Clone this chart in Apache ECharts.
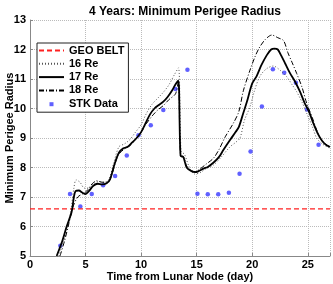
<!DOCTYPE html>
<html><head><meta charset="utf-8">
<script src="https://cdn.jsdelivr.net/npm/echarts@6/dist/echarts.min.js"></script>
<style>html,body{margin:0;padding:0;background:#fff}#c{width:333px;height:284px}</style>
</head><body><div id="c"></div>
<script>
const geoBelt = 6.6;
const re16 = [[2.6,5.0],[3.0,5.5],[3.4,6.0],[3.7,6.6],[3.95,7.3],[4.15,7.58],[4.5,7.5],[4.9,7.3],[5.3,7.3],[5.7,7.45],[6.2,7.52],[6.7,7.5],[7.1,7.6],[7.5,8.1],[8.0,8.7],[8.5,8.8],[9.0,8.95],[9.5,9.2],[10.0,9.45],[10.5,9.85],[11.0,10.15],[11.5,10.35],[12.0,10.55],[12.5,10.8],[13.0,11.15],[13.36,11.38],[13.6,8.55],[13.9,8.45],[14.3,8.05],[14.8,7.78],[15.3,7.82],[15.8,7.95],[16.5,8.08],[17.2,8.35],[18.0,8.7],[18.5,8.85],[18.9,9.0],[19.3,9.6],[19.8,10.06],[20.2,10.6],[20.7,11.1],[21.3,11.35],[21.9,11.44],[22.5,11.3],[23.1,11.08],[23.6,10.8],[24.0,10.57],[24.5,10.2],[24.9,9.84],[25.4,9.4],[25.8,9.0],[26.3,8.8],[27,8.65]];
const re17 = [[2.4,5.0],[2.9,5.5],[3.3,6.0],[3.75,6.5],[3.95,7.0],[4.1,7.2],[4.4,7.22],[4.7,7.15],[5.0,7.1],[5.3,7.2],[5.7,7.38],[6.1,7.45],[6.5,7.43],[6.9,7.47],[7.2,7.6],[7.6,8.1],[8.0,8.5],[8.4,8.65],[8.8,8.7],[9.2,8.85],[9.6,9.0],[10.0,9.2],[10.4,9.5],[10.8,9.8],[11.2,10.0],[11.6,10.12],[12.0,10.23],[12.4,10.4],[12.8,10.62],[13.1,10.82],[13.35,10.94],[13.55,8.4],[13.8,8.35],[14.1,8.0],[14.5,7.88],[14.85,7.84],[15.2,7.88],[15.6,7.96],[16.0,8.02],[16.5,8.16],[17.0,8.35],[17.4,8.59],[18.0,8.93],[18.5,9.2],[18.8,9.38],[19.2,9.85],[19.5,10.2],[20.0,10.85],[20.4,11.1],[20.8,11.45],[21.3,11.8],[21.7,12.0],[22.0,12.03],[22.3,12.0],[22.6,11.8],[23.0,11.5],[23.4,11.2],[23.8,10.95],[24.3,10.57],[24.7,10.2],[25.1,9.9],[25.5,9.5],[25.9,9.15],[26.3,8.9],[26.7,8.75],[27,8.7]];
const re18 = [[2.7,5.0],[3.1,5.5],[3.5,6.1],[3.9,6.7],[4.3,7.0],[4.7,7.1],[5.1,7.2],[5.6,7.45],[6.0,7.55],[6.5,7.5],[7.0,7.5],[7.4,7.8],[7.9,8.4],[8.4,8.6],[9.0,8.75],[9.5,8.95],[10.0,9.2],[10.5,9.5],[11.0,9.75],[11.5,9.95],[12.0,10.1],[12.5,10.3],[13.1,10.5],[13.35,10.93],[13.55,8.4],[13.8,8.38],[14.1,8.05],[14.5,7.9],[14.9,7.86],[15.3,7.95],[15.8,8.1],[16.5,8.31],[17.0,8.6],[17.57,9.04],[18.3,9.5],[18.8,9.9],[19.2,10.6],[19.8,11.3],[20.3,11.8],[20.7,12.1],[21.2,12.35],[21.77,12.49],[22.3,12.4],[22.82,12.3],[23.2,11.9],[23.6,11.55],[24.0,11.19],[24.5,10.7],[24.9,10.18],[25.4,9.7],[25.8,9.27],[26.2,8.95],[26.6,8.8],[27,8.7]];
const stkX = [2.73,3.6,4.53,5.56,6.58,7.66,8.71,9.76,10.87,12.0,13.09,14.17,15.07,16.0,16.94,17.9,18.86,19.85,20.87,21.86,22.88,23.93,24.92,25.97];
const stkY = [5.35,7.1,6.68,7.1,7.4,7.71,8.41,9.09,9.43,9.95,10.66,11.31,7.11,7.09,7.09,7.14,7.79,8.54,10.07,11.33,11.21,10.87,9.97,8.77];
const xTicks = [0,5,10,15,20,25];
const yTicks = [5,6,7,8,9,10,11,12,13];

const F = '"Liberation Sans", Arial, sans-serif';
const hideSym = {opacity:0};
const chart = echarts.init(document.getElementById('c'));
chart.setOption({
  animation:false,
  title:{text:'4 Years: Minimum Perigee Radius', left:180, top:1, textAlign:'center',
    textStyle:{fontFamily:F,fontWeight:'bold',fontSize:12,color:'#000'}},
  grid:{left:30,right:3,top:20,bottom:28,outerBoundsMode:'none',containLabel:false},
  legend:{orient:'vertical',left:37,top:43,backgroundColor:'#fff',borderColor:'#222',borderWidth:1,
    padding:[2,4,2,1],itemGap:2.3,itemWidth:25,itemHeight:12,
    textStyle:{fontFamily:F,fontWeight:'bold',fontSize:11,color:'#000'},
    data:[{name:'GEO BELT',itemStyle:hideSym},{name:'16 Re',itemStyle:hideSym},{name:'17 Re',itemStyle:hideSym},
      {name:'18 Re',itemStyle:hideSym},
      {name:'STK Data',icon:'path://M0,0M12,12M4,4h4v4h-4z'}]},
  xAxis:{type:'value',min:0,max:27,interval:5,
    name:'Time from Lunar Node (day)',nameLocation:'middle',nameGap:15,nameMoveOverlap:false,
    nameTextStyle:{fontFamily:F,fontWeight:'bold',fontSize:11,color:'#000'},
    axisLine:{lineStyle:{color:'#888'}},axisTick:{inside:true,length:3,lineStyle:{color:'#888'}},
    axisLabel:{fontFamily:F,fontWeight:'bold',fontSize:11,color:'#000',margin:3,
      formatter:v=>xTicks.includes(v)?String(v):''},
    splitLine:{lineStyle:{type:'dotted',color:'#bbb'}}},
  yAxis:{type:'value',min:5,max:13,interval:1,
    name:'Minimum Perigee Radius',nameLocation:'middle',nameGap:15,nameMoveOverlap:false,
    nameTextStyle:{fontFamily:F,fontWeight:'bold',fontSize:11,color:'#000'},
    axisLine:{show:true,lineStyle:{color:'#888'}},axisTick:{show:true,inside:true,length:3,lineStyle:{color:'#888'}},
    axisLabel:{fontFamily:F,fontWeight:'bold',fontSize:11,color:'#000',margin:4,
      formatter:v=>yTicks.includes(v)?String(v):''},
    splitLine:{lineStyle:{type:'dotted',color:'#bbb'}}},
  series:[
    {name:'GEO BELT',type:'line',data:[[0,geoBelt],[27,geoBelt]],symbol:'none',
      lineStyle:{color:'#ff2020',width:1.2,type:[5,3]},itemStyle:{color:'#ff2020'}},
    {name:'16 Re',type:'line',data:re16,symbol:'none',smooth:0.3,
      lineStyle:{color:'#555',width:1,type:[1,2]},itemStyle:{color:'#555'}},
    {name:'17 Re',type:'line',data:re17,symbol:'none',smooth:0.3,
      lineStyle:{color:'#000',width:1.8},itemStyle:{color:'#000'}},
    {name:'18 Re',type:'line',data:re18,symbol:'none',smooth:0.3,
      lineStyle:{color:'#000',width:1,type:[5,2,1,2]},itemStyle:{color:'#000'}},
    {name:'STK Data',type:'scatter',data:stkX.map((x,i)=>[x,stkY[i]]),symbol:'circle',symbolSize:4.5,
      itemStyle:{color:'#3838ff'}}
  ]
});
</script></body></html>
